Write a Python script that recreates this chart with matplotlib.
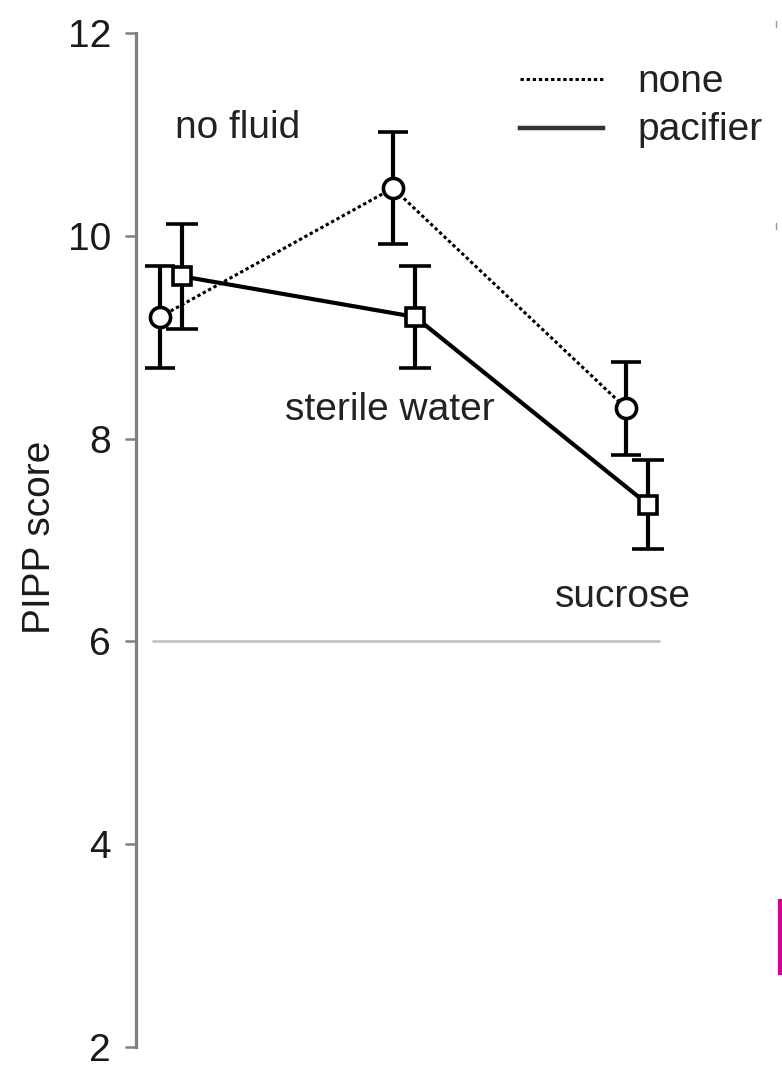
import matplotlib
matplotlib.use("Agg")
import matplotlib.pyplot as plt
from matplotlib.lines import Line2D

plt.rcParams['font.family'] = ['Liberation Sans', 'DejaVu Sans']

# ---- data ----
conditions = ["no fluid", "sterile water", "sucrose"]
none_mean = [9.2, 10.47, 8.3]
none_err = [0.5, 0.55, 0.46]
pacifier_mean = [9.6, 9.2, 7.35]
pacifier_err = [0.52, 0.5, 0.44]
yticks = [2, 4, 6, 8, 10, 12]
series_names = ["none", "pacifier"]

W, H = 782, 1066
fig = plt.figure(figsize=(W / 100, H / 100), dpi=100)
ax = fig.add_axes([136 / W, 1 - 1047 / H, 1 - 136 / W, (1047 - 33) / H])

x_none = [1, 2, 3]
x_pac = [x + 0.095 for x in x_none]

ax.hlines(6, 0.966, 3.146, color="#c2c2c2", lw=1.9, zorder=1)

ax.errorbar(x_none, none_mean, yerr=none_err, color="black", lw=2.2,
            ls=(0, (1.1, 0.9)), marker="o", ms=14.5, mfc="white", mec="black",
            mew=2.6, elinewidth=3.0, capsize=10.5, capthick=3.0, zorder=3)
ax.errorbar(x_pac, pacifier_mean, yerr=pacifier_err, color="black", lw=3.0,
            ls="-", marker="s", ms=12.5, mfc="white", mec="black",
            mew=2.6, elinewidth=3.0, capsize=11.5, capthick=3.0, zorder=4)

ax.set_xlim(0.897, 3.670)
ax.set_ylim(2, 12)
ax.set_yticks(yticks)
ax.set_xticks([])
for s in ["top", "right", "bottom"]:
    ax.spines[s].set_visible(False)
ax.spines["left"].set_color("#7f7f7f")
ax.spines["left"].set_linewidth(2.3)
ax.tick_params(axis="y", direction="out", length=8, width=1.8, color="#7f7f7f",
               labelsize=28, labelcolor="#1a1a1a", pad=10)

ax.set_ylabel("PIPP score", fontsize=28, color="#1a1a1a")
ax.yaxis.set_label_coords((58 - 136) / (W - 136), (1047 - 537) / 1014)

txt_kw = dict(fontsize=28, color="#222222", ha="left", va="baseline")
ax.text(1.064, 10.96, conditions[0], **txt_kw)
ax.text(1.536, 8.18, conditions[1], **txt_kw)
ax.text(2.695, 6.34, conditions[2], **txt_kw)

# legend (drawn manually)
fig.add_artist(Line2D([520 / W, 603 / W], [1 - 79 / H, 1 - 79 / H], color="black",
                      lw=2.2, ls=(0, (1.1, 0.9))))
fig.add_artist(Line2D([520 / W, 603 / W], [1 - 128 / H, 1 - 128 / H], color="#333333",
                      lw=3.2, ls="-"))
fig.text(637 / W, 1 - 82 / H, series_names[0], fontsize=28, color="#222222",
         ha="left", va="center")
fig.text(637 / W, 1 - 130 / H, series_names[1], fontsize=28, color="#222222",
         ha="left", va="center")

# stray marks at the right edge
fig.add_artist(Line2D([779.5 / W, 779.5 / W], [1 - 899 / H, 1 - 975 / H],
                      color="#d4009a", lw=3.0, solid_capstyle="butt"))
for yy in (24, 226):
    fig.add_artist(Line2D([776 / W, 776 / W], [1 - (yy - 3) / H, 1 - (yy + 3) / H],
                          color="#9a9a9a", lw=1.0))

fig.savefig("out.png", dpi=100)
